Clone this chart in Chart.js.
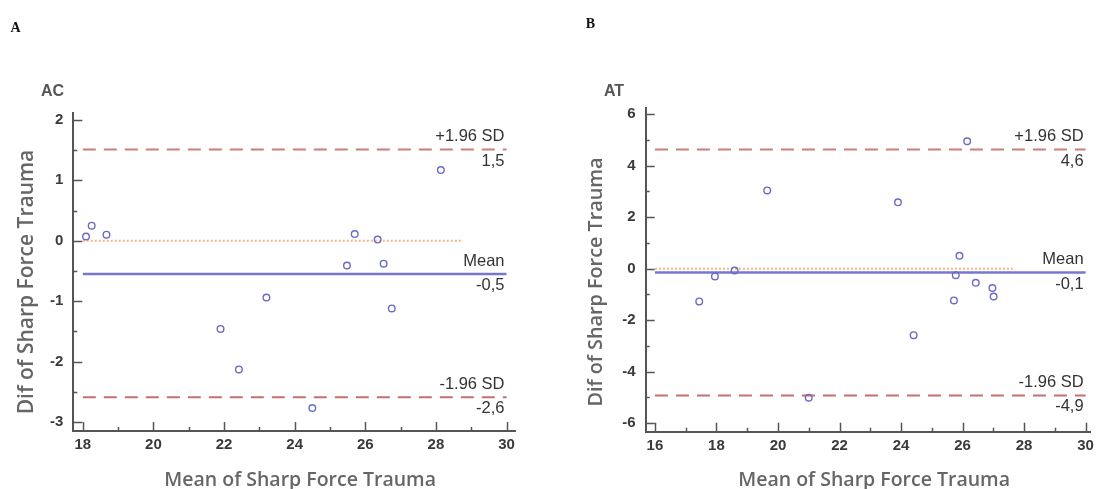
<!DOCTYPE html>
<html>
<head>
<meta charset="utf-8">
<script src="https://cdn.jsdelivr.net/npm/chart.js@4.4.1/dist/chart.umd.min.js"></script>
<style>
  html, body { margin: 0; padding: 0; background: #fff; }
  #wrap { position: relative; width: 1099px; height: 489px; overflow: hidden; }
  .panel { position: absolute; top: 0; }
</style>
</head>
<body>
<div id="wrap">
  <div class="panel" style="left:0px"><canvas id="cA" width="549" height="489"></canvas></div>
  <div class="panel" style="left:549px"><canvas id="cB" width="550" height="489"></canvas></div>
</div>
<script>
// ---------- Data: panel A (AC) ----------
const acMeanVals = [18.09, 18.25, 18.67, 25.70, 26.35, 28.14, 25.48, 26.52, 23.20, 26.75, 21.90, 22.42, 24.50];
const acDiffVals = [0.07, 0.25, 0.10, 0.11, 0.02, 1.17, -0.41, -0.38, -0.94, -1.12, -1.46, -2.13, -2.77];
const acLimits = [1.51, -0.55, -2.59];          // +1.96 SD, mean, -1.96 SD
const acLimitValues = ["1,5", "-0,5", "-2,6"];
const acZeroEnd = 28.77;
const acXTicks = [18, 20, 22, 24, 26, 28, 30];
const acYTicks = [-3, -2, -1, 0, 1, 2];

// ---------- Data: panel B (AT) ----------
const atMeanVals = [19.65, 23.90, 26.15, 17.44, 17.95, 18.59, 21.00, 24.41, 25.90, 25.78, 25.72, 26.43, 26.97, 27.01];
const atDiffVals = [3.04, 2.58, 4.95, -1.27, -0.30, -0.07, -5.01, -2.58, 0.50, -0.25, -1.23, -0.55, -0.75, -1.08];
const atLimits = [4.63, -0.15, -4.92];
const atLimitValues = ["4,6", "-0,1", "-4,9"];
const atZeroEnd = 27.64;
const atXTicks = [16, 18, 20, 22, 24, 26, 28, 30];
const atYTicks = [-6, -4, -2, 0, 2, 4, 6];

const limitNames = ["+1.96 SD", "Mean", "-1.96 SD"];
const xTitle = "Mean of Sharp Force Trauma";
const yTitle = "Dif of Sharp Force Trauma";

const AXIS_COLOR = '#555555';
const TICK_FONT = { family: 'Liberation Sans, Arial, sans-serif', size: 15, weight: 'bold' };

function decoPlugin(p) {
  return {
    id: 'deco' + p.id,
    afterDraw(chart) {
      const ctx = chart.ctx;
      const xs = chart.scales.x, ys = chart.scales.y;
      const ca = chart.chartArea;
      ctx.save();
      // inward tick marks
      ctx.strokeStyle = AXIS_COLOR;
      ctx.lineWidth = 1.5;
      const x0 = p.xTicks[0], x1 = p.xTicks[p.xTicks.length - 1];
      for (let v = x0; v <= x1 + 1e-9; v += p.xMinor) {
        const major = p.xTicks.some(t => Math.abs(t - v) < 1e-6);
        const px = Math.round(xs.getPixelForValue(v)) + 0.5;
        ctx.beginPath();
        ctx.moveTo(px, ca.bottom);
        ctx.lineTo(px, ca.bottom - (major ? 9 : 4));
        ctx.stroke();
      }
      const y0 = p.yTicks[0], y1 = p.yTicks[p.yTicks.length - 1];
      for (let v = y0; v <= y1 + 1e-9; v += p.yMinor) {
        const major = p.yTicks.some(t => Math.abs(t - v) < 1e-6);
        const py = Math.round(ys.getPixelForValue(v)) + 0.5;
        ctx.beginPath();
        ctx.moveTo(ca.left, py);
        ctx.lineTo(ca.left + (major ? 9 : 4), py);
        ctx.stroke();
      }
      // limit labels
      ctx.fillStyle = '#333';
      ctx.font = '16.5px "Liberation Sans", Arial, sans-serif';
      ctx.textAlign = 'right';
      ctx.textBaseline = 'middle';
      const rx = xs.getPixelForValue(x1) - 2;
      p.limits.forEach((v, i) => {
        const py = ys.getPixelForValue(v);
        ctx.fillText(limitNames[i], rx, py - 13);
        ctx.fillText(p.limitValues[i], rx, py + 11.5);
      });
      // panel letter
      ctx.fillStyle = '#111';
      ctx.font = 'bold 14px "Liberation Serif", "Times New Roman", serif';
      ctx.textAlign = 'center';
      ctx.fillText(p.letter, p.letterPos[0], p.letterPos[1]);
      // panel name
      ctx.fillStyle = '#555';
      ctx.font = 'bold 16px "Liberation Sans", Arial, sans-serif';
      ctx.textAlign = 'left';
      ctx.fillText(p.name, p.namePos[0], p.namePos[1]);
      // axis titles
      ctx.fillStyle = '#666';
      ctx.textAlign = 'center';
      ctx.font = '600 ' + p.xTitleSize + 'px "Open Sans", sans-serif';
      ctx.fillText(xTitle, (ca.left + ca.right) / 2 + 6, 480);
      ctx.save();
      ctx.font = '600 ' + p.yTitleSize + 'px "Open Sans", sans-serif';
      ctx.translate(p.yTitleX, 282);
      ctx.rotate(-Math.PI / 2);
      ctx.fillText(yTitle, 0, 0);
      ctx.restore();
      ctx.restore();
    }
  };
}

function makeChart(canvasId, p) {
  const pts = p.xv.map((x, i) => ({ x: x, y: p.yv[i] }));
  const x0 = p.xTicks[0], x1 = p.xTicks[p.xTicks.length - 1];
  const hline = (v) => [{ x: x0, y: v }, { x: x1, y: v }];
  return new Chart(document.getElementById(canvasId), {
    type: 'scatter',
    data: {
      datasets: [
        { type: 'line', data: [{ x: x0, y: 0 }, { x: p.zeroEnd, y: 0 }], borderColor: '#f4b48a',
          borderWidth: 2, borderDash: [2, 2], pointRadius: 0, fill: false, order: 5 },
        { type: 'line', data: hline(p.limits[0]), borderColor: '#cc7d7d', borderWidth: 2,
          borderDash: [13, 8], pointRadius: 0, fill: false, order: 4 },
        { type: 'line', data: hline(p.limits[2]), borderColor: '#c47070', borderWidth: 2,
          borderDash: [13, 8], pointRadius: 0, fill: false, order: 4 },
        { type: 'line', data: hline(p.limits[1]), borderColor: '#7777d0', borderWidth: 2.6,
          pointRadius: 0, fill: false, order: 3 },
        { type: 'scatter', data: pts, pointStyle: 'circle', radius: 3.3, borderWidth: 1.4,
          borderColor: '#6a6ac6', backgroundColor: 'rgba(0,0,0,0)', order: 1 }
      ]
    },
    options: {
      responsive: false,
      animation: false,
      devicePixelRatio: 1,
      layout: { padding: { top: p.area.top, right: p.area.right, bottom: 0, left: 0 } },
      plugins: { legend: { display: false }, tooltip: { enabled: false } },
      scales: {
        x: {
          type: 'linear', min: p.xRange[0], max: p.xRange[1],
          afterBuildTicks: (s) => { s.ticks = p.xTicks.map(v => ({ value: v })); },
          afterFit: (s) => { s.height = p.area.xh; },
          ticks: { font: TICK_FONT, color: '#3a3a3a', padding: 5, maxRotation: 0, autoSkip: false },
          grid: { display: true, drawOnChartArea: false, drawTicks: false },
          border: { display: true, color: AXIS_COLOR, width: 2 }
        },
        y: {
          type: 'linear', min: p.yRange[0], max: p.yRange[1],
          afterBuildTicks: (s) => { s.ticks = p.yTicks.map(v => ({ value: v })); },
          afterFit: (s) => { s.width = p.area.yw; },
          ticks: { font: TICK_FONT, color: '#3a3a3a', padding: 10, autoSkip: false },
          grid: { display: true, drawOnChartArea: false, drawTicks: false },
          border: { display: true, color: AXIS_COLOR, width: 2 }
        }
      }
    },
    plugins: [decoPlugin(p)]
  });
}

makeChart('cA', {
  id: 'A', xv: acMeanVals, yv: acDiffVals, limits: acLimits, limitValues: acLimitValues,
  zeroEnd: acZeroEnd, xTicks: acXTicks, yTicks: acYTicks, xMinor: 1, yMinor: 0.5,
  xRange: [17.73, 30.24], yRange: [-3.15, 2.12],
  area: { top: 112.7, right: 34, xh: 58, yw: 73.3 },
  letter: 'A', letterPos: [15.5, 28], name: 'AC', namePos: [41, 92], yTitleX: 27,
  xTitleSize: 19.5, yTitleSize: 21
});
makeChart('cB', {
  id: 'B', xv: atMeanVals, yv: atDiffVals, limits: atLimits, limitValues: atLimitValues,
  zeroEnd: atZeroEnd, xTicks: atXTicks, yTicks: atYTicks, xMinor: 1, yMinor: 1,
  xRange: [15.70, 30.16], yRange: [-6.33, 6.23],
  area: { top: 108.3, right: 5, xh: 57.3, yw: 96.7 },
  letter: 'B', letterPos: [41.5, 24], name: 'AT', namePos: [55, 92], yTitleX: 47,
  xTitleSize: 19.5, yTitleSize: 19.8
});
</script>
</body>
</html>
